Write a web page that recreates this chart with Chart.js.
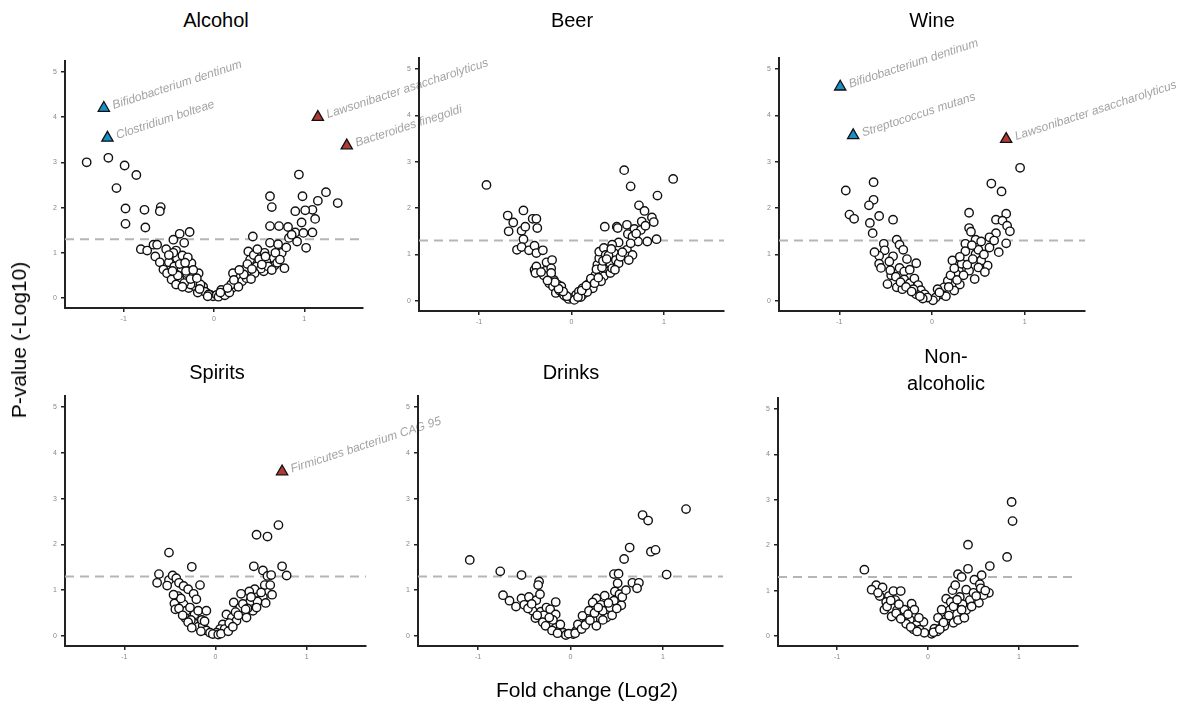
<!DOCTYPE html>
<html>
<head>
<meta charset="utf-8">
<script src="https://cdn.jsdelivr.net/npm/chart.js@4.4.1/dist/chart.umd.min.js"></script>
<style>
  html, body { margin:0; padding:0; background:#fff; }
  body { width:1193px; height:708px; position:relative; overflow:hidden; font-family:"Liberation Sans", Arial, sans-serif; }
  canvas { position:absolute; left:0; top:0; }
  .title { position:absolute; transform:translate(-50%,-50%); font-size:20px; color:#000; text-align:center; line-height:27px; white-space:nowrap; }
  .axis { position:absolute; font-size:21px; color:#000; white-space:nowrap; }
</style>
</head>
<body>
<script>
// ---------- DATA ----------
const panelTitles = ["Alcohol", "Beer", "Wine", "Spirits", "Drinks", "Non-\nalcoholic"];
const xTickValues = [-1, 0, 1];
const yTickValues = [0, 1, 2, 3, 4, 5];
const significanceThreshold = 1.3;

const alcoholPoints = [
 [-1.41,3.00],[-1.17,3.10],[-0.99,2.93],[-0.86,2.72],[-1.08,2.43],[-0.98,1.98],[-0.98,1.64],[-0.77,1.95],[-0.76,1.56],[-0.59,2.01],[-0.60,1.92],
 [-0.81,1.08],[-0.74,1.05],[-0.67,1.18],[-0.63,1.18],[-0.65,0.92],[-0.60,0.79],[-0.27,1.46],[-0.38,1.42],[-0.45,1.29],[-0.33,1.22],[-0.53,1.08],
 [-0.42,1.05],[-0.41,0.88],[-0.50,0.79],[-0.35,0.94],[-0.25,0.77],[-0.56,0.63],[-0.52,0.55],[-0.47,0.41],[-0.38,0.41],[-0.30,0.55],[-0.17,0.55],
 [-0.28,0.22],[-0.21,0.26],[-0.14,0.18],[-0.08,0.11],[-0.04,0.07],[-0.01,0.04],[-0.44,0.70],[-0.36,0.66],[-0.31,0.60],[-0.23,0.48],[-0.20,0.35],
 [-0.26,0.30],[-0.33,0.33],[-0.40,0.50],[-0.12,0.25],[-0.10,0.14],[-0.06,0.08],[-0.18,0.12],[-0.15,0.30],[-0.45,1.00],[-0.38,0.75],[-0.29,0.90],[-0.23,0.62],
 [-0.50,0.95],[-0.46,0.60],[-0.42,0.30],[-0.35,0.25],[-0.32,0.78],[-0.26,0.42],[-0.19,0.44],[-0.16,0.20],[-0.07,0.04],
 [0.94,2.73],[0.62,2.25],[0.64,2.01],[0.98,2.25],[1.24,2.34],[1.15,2.15],[1.37,2.10],[1.09,1.95],[1.01,1.94],[0.90,1.92],[0.97,1.67],[1.12,1.75],
 [0.62,1.59],[0.72,1.59],[0.82,1.57],[0.90,1.45],[0.99,1.44],[1.09,1.45],[0.62,1.22],[0.71,1.19],[0.92,1.25],[1.02,1.11],[0.83,1.33],[0.43,1.36],
 [0.78,0.66],[0.75,1.00],[0.66,0.88],[0.67,0.72],[0.58,0.81],[0.55,0.59],[0.47,0.70],[0.38,1.03],[0.40,0.85],[0.34,0.63],[0.29,0.48],[0.21,0.55],[0.23,0.33],
 [0.03,0.07],[0.08,0.18],[0.14,0.15],[0.20,0.22],[0.25,0.30],[0.31,0.37],[0.36,0.44],[0.05,0.03],[0.10,0.10],[0.12,0.06],[0.17,0.12],[0.19,0.30],
 [0.27,0.25],[0.33,0.52],[0.44,0.95],[0.50,0.86],[0.52,0.65],[0.45,0.55],[0.60,0.70],[0.64,0.62],[0.70,0.78],[0.56,1.00],[0.48,1.08],[0.80,1.12],
 [0.86,1.40],[0.41,0.42],[0.15,0.22],
 [0.07,0.12],[0.22,0.40],[0.28,0.62],[0.37,0.75],[0.42,0.64],[0.53,0.74],[0.57,0.92],[0.68,1.00],[0.73,0.85]
];
const alcoholSig = [
 {x:-1.22, y:4.20, label:"Bifidobacterium dentinum", dir:"down"},
 {x:-1.18, y:3.54, label:"Clostridium bolteae", dir:"down"},
 {x:1.15, y:4.00, label:"Lawsonibacter asaccharolyticus", dir:"up"},
 {x:1.47, y:3.37, label:"Bacteroides finegoldi", dir:"up"}
];

const beerPoints = [
 [-0.92,2.50],[0.57,2.82],[0.64,2.47],[1.10,2.63],[0.93,2.27],[0.73,2.06],[0.79,1.94],[0.76,1.71],[0.87,1.80],[0.89,1.70],[0.92,1.33],[0.82,1.28],
 [0.72,1.28],[0.60,1.64],[0.68,1.55],[0.75,1.53],[0.61,1.44],[0.66,1.39],[0.49,1.60],[0.36,1.60],[0.50,1.57],[0.51,1.26],[0.44,1.21],[0.60,1.10],
 [0.60,0.96],[0.66,0.99],[0.62,0.88],
 [-0.69,1.84],[-0.63,1.69],[-0.52,1.95],[-0.68,1.50],[-0.54,1.51],[-0.50,1.60],[-0.42,1.77],[-0.38,1.77],[-0.37,1.57],[-0.52,1.33],[-0.59,1.10],
 [-0.54,1.16],[-0.46,1.09],[-0.40,1.19],[-0.38,1.03],[-0.31,1.09],[-0.40,0.67],[-0.38,0.74],[-0.39,0.60],[-0.27,0.83],[-0.21,0.88],[-0.28,0.65],
 [-0.24,0.53],[-0.19,0.45],[-0.24,0.38],[-0.20,0.31],[-0.15,0.35],[-0.11,0.31],[-0.17,0.17],[-0.10,0.17],[-0.06,0.09],[-0.03,0.04],[0.01,0.06],
 [0.05,0.13],[0.08,0.20],[0.12,0.13],[0.15,0.27],[0.19,0.35],[0.23,0.45],[0.26,0.56],[0.28,0.78],[0.30,0.92],[0.30,1.06],[0.35,1.14],[0.37,0.99],
 [0.39,0.63],[0.35,0.53],[0.42,0.81],[0.46,1.03],[0.48,0.88],[0.51,0.81],[0.42,0.60],[0.32,0.42],[0.23,0.27],[0.17,0.19],[0.12,0.27],
 [-0.13,0.22],[-0.08,0.12],[0.03,0.02],[0.10,0.08],[0.20,0.40],[0.27,0.68],[0.33,0.72],[0.40,0.98],[0.44,0.70],[-0.30,0.55],[-0.22,0.70],
 [-0.05,0.10],[-0.09,0.20],[-0.14,0.26],[-0.18,0.40],[-0.22,0.60],[-0.26,0.44],[-0.33,0.62],[0.07,0.08],[0.11,0.22],[0.16,0.33],[0.21,0.48],
 [0.25,0.38],[0.29,0.50],[0.34,0.86],[0.38,0.90],[0.43,1.12],[0.47,0.67],[0.53,0.95],[0.55,1.05],[0.64,1.24],[0.70,1.45],[0.80,1.62]
];
const beerSig = [];

const winePoints = [
 [0.95,2.87],[0.64,2.53],[0.75,2.36],[0.80,1.88],[0.69,1.75],[0.76,1.73],[0.81,1.62],[0.84,1.50],[0.80,1.24],[0.69,1.46],[0.62,1.37],[0.40,1.90],
 [0.40,1.57],[0.42,1.49],[0.36,1.23],[0.36,1.07],[0.47,1.32],[0.53,1.28],[0.47,1.01],[0.60,0.76],[0.53,0.87],[0.46,0.47],[0.40,0.65],[0.29,0.65],
 [0.22,0.87],[0.26,0.58],[0.17,0.43],[0.13,0.29],[0.06,0.25],[0.10,0.14],[0.04,0.07],[0.01,0.01],
 [-0.93,2.38],[-0.63,2.56],[-0.63,2.18],[-0.68,2.06],[-0.89,1.86],[-0.84,1.77],[-0.57,1.83],[-0.42,1.75],[-0.67,1.68],[-0.64,1.46],[-0.52,1.23],
 [-0.38,1.32],[-0.35,1.21],[-0.31,1.10],[-0.51,1.09],[-0.57,0.97],[-0.42,0.96],[-0.57,0.80],[-0.55,0.71],[-0.44,0.55],[-0.17,0.81],[-0.35,0.71],
 [-0.30,0.63],[-0.24,0.67],[-0.30,0.46],[-0.24,0.38],[-0.19,0.48],[-0.15,0.34],[-0.12,0.23],[-0.08,0.14],[-0.05,0.07],[-0.38,0.29],[-0.32,0.25],[-0.17,0.14],
 [0.20,0.55],[0.32,0.80],[0.50,1.10],[0.56,1.00],[0.30,0.35],[0.24,0.22],[0.15,0.10],[-0.27,0.90],[-0.46,0.85],[-0.20,0.25],[-0.10,0.05],
 [-0.45,0.66],[-0.39,0.52],[-0.34,0.40],[-0.28,0.30],[-0.22,0.20],[-0.13,0.10],[-0.62,1.05],[-0.48,0.36],[0.08,0.18],[0.18,0.30],[0.27,0.45],
 [0.34,0.55],[0.38,0.78],[0.44,0.90],[0.50,0.72],[0.57,0.62],[0.62,1.15],[0.67,1.30],[0.72,1.05],[0.43,1.20],[0.30,0.95],[0.24,0.70]
];
const wineSig = [
 {x:-0.99, y:4.62, label:"Bifidobacterium dentinum", dir:"down"},
 {x:-0.85, y:3.57, label:"Streptococcus mutans", dir:"down"},
 {x:0.80, y:3.49, label:"Lawsonibacter asaccharolyticus", dir:"up"}
];

const spiritsPoints = [
 [0.69,2.42],[0.45,2.21],[0.57,2.17],[0.73,1.52],[0.78,1.32],[0.42,1.52],[0.52,1.43],[0.57,1.31],[0.61,1.33],[0.54,1.11],[0.60,1.11],[0.43,1.02],
 [0.37,0.97],[0.28,0.92],[0.49,0.80],[0.52,0.85],[0.38,0.76],[0.20,0.73],[0.41,0.55],[0.31,0.51],[0.27,0.62],[0.12,0.47],[0.18,0.40],[0.23,0.33],
 [0.08,0.25],[0.05,0.15],[0.01,0.07],[0.34,0.40],
 [-0.51,1.82],[-0.26,1.51],[-0.62,1.35],[-0.64,1.16],[-0.51,1.22],[-0.47,1.32],[-0.43,1.26],[-0.40,1.16],[-0.35,1.09],[-0.30,1.02],[-0.17,1.11],
 [-0.41,0.87],[-0.24,0.92],[-0.45,0.71],[-0.44,0.58],[-0.35,0.69],[-0.32,0.55],[-0.33,0.39],[-0.23,0.47],[-0.19,0.55],[-0.10,0.55],[-0.24,0.29],
 [-0.19,0.20],[-0.14,0.22],[-0.10,0.12],[-0.06,0.07],[-0.03,0.04],[-0.21,0.80],
 [-0.38,0.82],[-0.28,0.62],[-0.15,0.35],[0.10,0.15],[0.15,0.28],[0.22,0.52],[0.30,0.70],[0.46,0.75],[0.35,0.60],[-0.27,0.35],[0.03,0.03],
 [-0.53,1.10],[-0.46,0.90],[-0.40,0.60],[-0.36,0.45],[-0.30,0.30],[-0.26,0.18],[-0.16,0.10],[-0.12,0.32],[0.06,0.05],[0.14,0.10],[0.19,0.20],
 [0.25,0.45],[0.33,0.58],[0.39,0.85],[0.45,0.62],[0.50,0.95],[0.55,0.72],[0.62,0.90]
];
const spiritsSig = [
 {x:0.73, y:3.59, label:"Firmicutes bacterium CAG 95", dir:"up"}
];

const drinksPoints = [
 [-1.09,1.66],[-0.76,1.41],[-0.53,1.33],[-0.73,0.89],[-0.66,0.77],[-0.59,0.64],[-0.53,0.82],[-0.45,0.85],[-0.50,0.68],[-0.37,0.78],[-0.34,1.19],
 [-0.35,1.11],[-0.33,0.91],[-0.41,0.55],[-0.38,0.39],[-0.32,0.53],[-0.26,0.62],[-0.22,0.58],[-0.16,0.74],[-0.16,0.47],[-0.25,0.33],[-0.21,0.22],
 [-0.16,0.18],[-0.12,0.12],[-0.08,0.07],[-0.05,0.02],
 [1.25,2.77],[0.78,2.64],[0.84,2.52],[0.64,1.93],[0.58,1.68],[0.87,1.84],[0.92,1.88],[1.04,1.34],[0.47,1.35],[0.52,1.36],[0.51,1.15],[0.67,1.16],
 [0.74,1.16],[0.72,1.04],[0.48,0.97],[0.53,0.91],[0.55,0.67],[0.47,0.77],[0.37,0.88],[0.28,0.82],[0.24,0.73],[0.33,0.68],[0.40,0.56],[0.39,0.40],
 [0.31,0.40],[0.24,0.36],[0.17,0.29],[0.13,0.44],[0.10,0.18],[0.06,0.11],[0.03,0.04],[0.28,0.22],
 [-0.29,0.45],[-0.19,0.35],[-0.11,0.25],[0.20,0.55],[0.35,0.55],[0.43,0.62],[0.08,0.25],[-0.02,0.05],
 [-0.46,0.60],[-0.42,0.70],[-0.36,0.45],[-0.30,0.30],[-0.27,0.22],[-0.20,0.12],[-0.14,0.06],[-0.23,0.40],[0.05,0.06],[0.12,0.15],[0.16,0.24],
 [0.21,0.34],[0.26,0.50],[0.30,0.62],[0.35,0.35],[0.41,0.72],[0.45,0.45],[0.50,0.60],[0.56,0.85],[0.60,1.00]
];
const drinksSig = [];

const nonAlcoholicPoints = [
 [0.92,2.95],[0.93,2.53],[0.44,2.01],[0.87,1.74],[0.68,1.54],[0.44,1.48],[0.33,1.36],[0.37,1.30],[0.59,1.34],[0.51,1.24],[0.57,1.14],[0.67,0.95],
 [0.61,0.90],[0.56,0.73],[0.42,1.02],[0.27,1.01],[0.20,0.82],[0.35,0.86],[0.46,0.79],[0.42,0.57],[0.31,0.49],[0.24,0.57],[0.15,0.58],[0.28,0.29],
 [0.20,0.38],[0.11,0.40],[0.15,0.20],[0.07,0.16],[0.04,0.05],
 [-0.70,1.46],[-0.57,1.12],[-0.50,1.07],[-0.53,0.88],[-0.43,0.88],[-0.38,0.99],[-0.30,0.99],[-0.36,0.79],[-0.48,0.58],[-0.40,0.43],[-0.34,0.57],
 [-0.26,0.58],[-0.18,0.71],[-0.15,0.58],[-0.27,0.40],[-0.20,0.36],[-0.05,0.31],[-0.13,0.24],[-0.09,0.14],[-0.04,0.07],[-0.24,0.27],
 [-0.46,0.75],[-0.32,0.70],[-0.10,0.40],[0.25,0.75],[0.38,0.70],[0.50,0.95],[0.33,0.35],[0.10,0.10],[-0.16,0.15],[0.18,0.22],
 [-0.62,1.02],[-0.55,0.95],[-0.45,0.65],[-0.41,0.78],[-0.35,0.50],[-0.30,0.38],[-0.22,0.48],[-0.19,0.20],[-0.12,0.10],[0.06,0.08],[0.13,0.15],
 [0.17,0.30],[0.23,0.45],[0.28,0.65],[0.32,0.80],[0.37,0.58],[0.40,0.40],[0.48,0.65],[0.53,0.88],[0.58,1.05],[0.63,1.00],[0.30,1.12]
];
const nonAlcoholicSig = [];

const panelPoints = [alcoholPoints, beerPoints, winePoints, spiritsPoints, drinksPoints, nonAlcoholicPoints];
const panelSig = [alcoholSig, beerSig, wineSig, spiritsSig, drinksSig, nonAlcoholicSig];

// ---------- LAYOUT (plot-area rectangles in page pixels) ----------
const W = 1193, H = 708;
const panelRects = [
  {l:65,  r:363,  t:61,  b:308, tx:216, ty:20},
  {l:419, r:724,  t:58,  b:311, tx:572, ty:20},
  {l:779, r:1085, t:58,  b:311, tx:932, ty:20},
  {l:65,  r:366,  t:396, b:646, tx:217, ty:372},
  {l:418, r:723,  t:396, b:646, tx:571, ty:372},
  {l:778, r:1078, t:398, b:646, tx:946, ty:372}
];
const X_MIN = -1.65, X_MAX = 1.65, Y_MIN = -0.22, Y_MAX = 5.24;
const Y_AXIS_W = 30, X_AXIS_H = 25;
const SIG_UP = '#b03a35', SIG_DOWN = '#1a8fc6';

const labelPlugin = {
  id: 'sigLabels',
  afterDatasetsDraw(chart, args, opts) {
    const {ctx, scales:{x, y}} = chart;
    ctx.save();
    ctx.font = 'italic 12px "Liberation Sans", Arial, sans-serif';
    ctx.fillStyle = '#a3a3a3';
    ctx.textBaseline = 'alphabetic';
    (opts.items || []).forEach(s => {
      const px = x.getPixelForValue(s.x), py = y.getPixelForValue(s.y);
      ctx.save();
      ctx.translate(px + 10, py + 1);
      ctx.rotate(-18 * Math.PI / 180);
      ctx.fillText(s.label, 0, 0);
      ctx.restore();
    });
    ctx.restore();
  }
};

panelRects.forEach((rc, i) => {
  const t = document.createElement('div');
  t.className = 'title';
  t.style.left = rc.tx + 'px';
  t.style.top = (i === 5 ? rc.ty - 2 : rc.ty) + 'px';
  t.innerHTML = panelTitles[i].replace('\n', '<br>');
  document.body.appendChild(t);

  const c = document.createElement('canvas');
  c.width = W; c.height = H;
  c.style.width = W + 'px'; c.style.height = H + 'px';
  document.body.appendChild(c);

  const pts = panelPoints[i].map(p => ({x:p[0], y:p[1]}));
  const sig = panelSig[i];
  const datasets = [
    {type:'line', data:[{x:X_MIN, y:significanceThreshold},{x:X_MAX, y:significanceThreshold}],
     borderColor:'#b5b5b5', borderWidth:2, borderDash:[9,6], pointRadius:0, fill:false, order:3},
    {data:pts, pointRadius:4.2, pointBackgroundColor:'#ffffff', pointBorderColor:'#111111',
     pointBorderWidth:1.4, order:2},
    {data:sig.map(s => ({x:s.x, y:s.y})), pointStyle:'triangle', pointRadius:6.5,
     pointBackgroundColor:sig.map(s => s.dir === 'up' ? SIG_UP : SIG_DOWN),
     pointBorderColor:'#111111', pointBorderWidth:1.3, order:1}
  ];

  new Chart(c, {
    type:'scatter',
    data:{datasets},
    plugins:[labelPlugin],
    options:{
      responsive:false, animation:false, devicePixelRatio:1, events:[],
      layout:{padding:{left:rc.l - Y_AXIS_W, top:rc.t, right:W - rc.r, bottom:H - rc.b - X_AXIS_H}},
      plugins:{legend:{display:false}, tooltip:{enabled:false}, title:{display:false},
               sigLabels:{items:sig}},
      scales:{
        x:{type:'linear', min:X_MIN, max:X_MAX,
           afterBuildTicks:s => { s.ticks = xTickValues.map(v => ({value:v})); },
           afterFit:s => { s.height = X_AXIS_H; },
           grid:{display:true, drawOnChartArea:false, drawTicks:true, tickLength:4, color:'#222', lineWidth:1.5},
           border:{display:true, color:'#222', width:2},
           ticks:{font:{size:7, family:'"Liberation Sans", Arial'}, color:'#888', padding:3, maxRotation:0}},
        y:{type:'linear', min:Y_MIN, max:Y_MAX,
           afterBuildTicks:s => { s.ticks = yTickValues.map(v => ({value:v})); },
           afterFit:s => { s.width = Y_AXIS_W; },
           grid:{display:true, drawOnChartArea:false, drawTicks:true, tickLength:4, color:'#222', lineWidth:1.5},
           border:{display:true, color:'#222', width:2},
           ticks:{font:{size:7, family:'"Liberation Sans", Arial'}, color:'#888', padding:4}}
      }
    }
  });
});

const yl = document.createElement('div');
yl.className = 'axis';
yl.textContent = 'P-value (-Log10)';
yl.style.left = '19px'; yl.style.top = '340px';
yl.style.transform = 'translate(-50%,-50%) rotate(-90deg)';
document.body.appendChild(yl);

const xl = document.createElement('div');
xl.className = 'axis';
xl.textContent = 'Fold change (Log2)';
xl.style.left = '587px'; xl.style.top = '690px';
xl.style.transform = 'translate(-50%,-50%)';
document.body.appendChild(xl);
</script>
</body>
</html>
